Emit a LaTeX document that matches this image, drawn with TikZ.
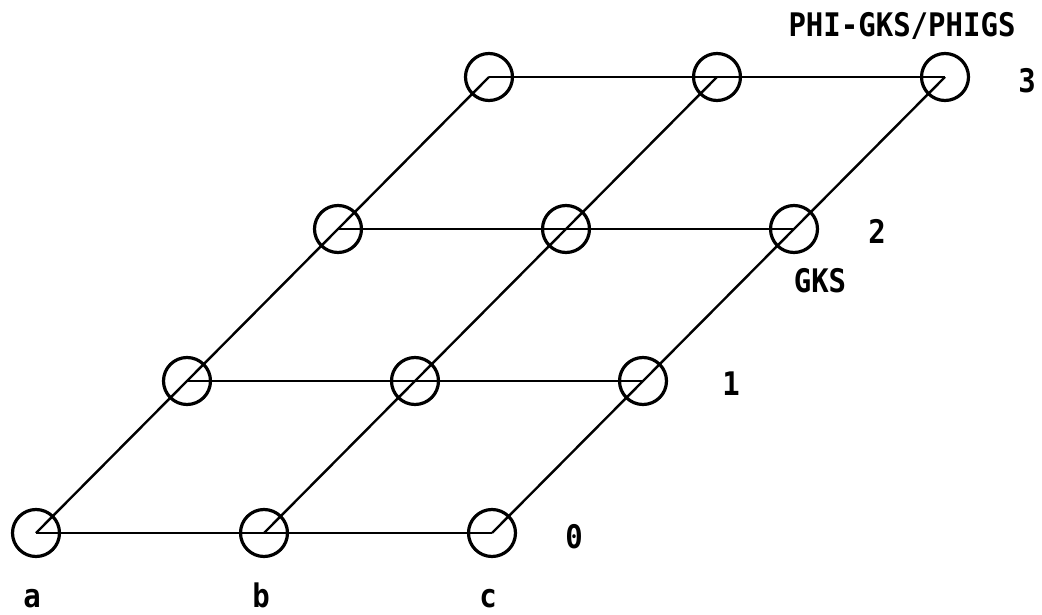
\documentclass[tikz,border=0pt]{standalone}
\usepackage{fontspec}
\setmonofont{DejaVu Sans Mono}
\usetikzlibrary{positioning}
\newcommand{\tallbox}[1]{\scalebox{1}[1.12]{#1}}
\tikzset{
  ring/.style  = {circle, draw, line width=3.2pt, minimum size=47pt, inner sep=0pt},
  link/.style  = {line width=2.4pt},
  lbl/.style   = {font=\fontsize{29}{29}\selectfont\ttfamily\bfseries, inner sep=0pt, anchor=base},
}

\begin{document}
\begin{tikzpicture}[x=1pt, y=-1pt]
  \useasboundingbox (0,0) rectangle (1042,615);
  % nodes: column a,b,c by level 0..3
  \foreach \c [count=\i from 0] in {a,b,c}
    \foreach \l in {0,...,3}
      \node[ring] (\c\l) at ({36+228*\i+151*\l}, {533-152*\l}) {};
  % level lines
  \foreach \l in {0,...,3}
    \draw[link] (a\l.center) -- (b\l.center) -- (c\l.center);
  % column lines
  \foreach \c in {a,b,c}
    \draw[link] (\c0.center) -- (\c1.center) -- (\c2.center) -- (\c3.center);
  % labels
  \node[lbl] (lba) at (32,607)  {\tallbox{a}};
  \node[lbl] (lbb) at (261,607) {\tallbox{b}};
  \node[lbl] (lbc) at (488,607) {\tallbox{c}};
  \node[lbl] (lv0) at (574,548) {\tallbox{0}};
  \node[lbl] (lv1) at (731,395) {\tallbox{1}};
  \node[lbl] (lv2) at (877,243) {\tallbox{2}};
  \node[lbl] (lv3) at (1027,93) {\tallbox{3}};
  \node[lbl] (gks) at (820,292) {\tallbox{GKS}};
  \node[lbl] (phi) at (902,37)  {\tallbox{PHI-GKS/PHIGS}};
\end{tikzpicture}
\end{document}
